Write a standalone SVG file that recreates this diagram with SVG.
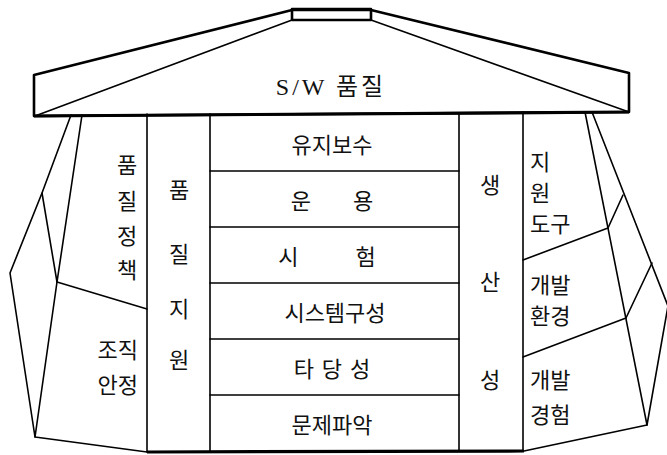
<svg xmlns="http://www.w3.org/2000/svg" width="667" height="455" viewBox="0 0 667 455">
<style>
.ln{fill:none;stroke:#000;stroke-width:1.6;stroke-linejoin:round;stroke-linecap:round}
.thk{fill:none;stroke:#000;stroke-width:2.6;stroke-linejoin:round;stroke-linecap:round}
.t{font-family:"Noto Sans CJK KR","Liberation Sans",sans-serif;font-size:22px;fill:#111;dominant-baseline:central}
.m{text-anchor:middle}
</style>
<rect width="667" height="455" fill="#fff"/>
<g id="roof">
<polygon class="thk" points="34,75 292,10 371,10 629,73 629,112 34,116"/>
<rect class="thk" x="292" y="9" width="79" height="11"/>
<line class="ln" x1="292" y1="20" x2="35" y2="116"/>
<line class="ln" x1="371" y1="20" x2="629" y2="112"/>
<line x1="34" y1="116" x2="629" y2="112" stroke="#000" stroke-width="3.2"/>
<text class="t m" x="331" y="87" style="font-family:'Liberation Serif','Noto Sans CJK KR',serif;font-size:24px" letter-spacing="3">S/W 품질</text>
</g>
<g id="left-panels">
<polyline class="ln" points="71,115 42,193 10,273 35,437 147,452"/>
<polyline class="ln" points="82,115 57,282 35,437"/>
<line class="ln" x1="42" y1="193" x2="57" y2="282"/>
<line class="ln" x1="57" y1="282" x2="147" y2="309"/>
<text class="t m" x="127" y="163">품</text>
<text class="t m" x="127" y="199">질</text>
<text class="t m" x="127" y="234">정</text>
<text class="t m" x="127" y="268">책</text>
<text class="t" x="138" y="348" text-anchor="end">조직</text>
<text class="t" x="138" y="383" text-anchor="end">안정</text>
</g>
<g id="quality-support">
<line class="ln" x1="147" y1="114" x2="147" y2="452"/>
<text class="t m" x="179" y="188">품</text>
<text class="t m" x="179" y="252">질</text>
<text class="t m" x="179" y="307">지</text>
<text class="t m" x="179" y="358">원</text>
</g>
<g id="stack">
<line class="ln" x1="210" y1="114" x2="210" y2="451"/>
<line class="ln" x1="459" y1="113" x2="459" y2="451"/>
<line class="ln" x1="210" y1="171" x2="459" y2="171"/>
<line class="ln" x1="210" y1="227" x2="459" y2="227"/>
<line class="ln" x1="210" y1="283" x2="459" y2="283"/>
<line class="ln" x1="210" y1="339" x2="459" y2="339"/>
<line class="ln" x1="210" y1="395" x2="459" y2="395"/>
<line x1="147" y1="452" x2="524" y2="451" stroke="#000" stroke-width="3.2"/>
<text class="t m" x="332" y="143">유지보수</text>
<text class="t m" x="332" y="199" word-spacing="37">운 용</text>
<text class="t m" x="327" y="255" word-spacing="52">시 험</text>
<text class="t m" x="335" y="311">시스템구성</text>
<text class="t m" x="332" y="367" word-spacing="3">타 당 성</text>
<text class="t m" x="332" y="423">문제파악</text>
</g>
<g id="productivity">
<line class="ln" x1="523" y1="112" x2="523" y2="451"/>
<text class="t m" x="490" y="183">생</text>
<text class="t m" x="490" y="280">산</text>
<text class="t m" x="490" y="378">성</text>
</g>
<g id="right-panels">
<polyline class="ln" points="592,112 668,306 647,425 524,451"/>
<line class="ln" x1="585" y1="112" x2="647" y2="425"/>
<line class="ln" x1="608" y1="228" x2="623" y2="195"/>
<line class="ln" x1="626" y1="318" x2="652" y2="263"/>
<line class="ln" x1="523" y1="260" x2="608" y2="228"/>
<line class="ln" x1="523" y1="357" x2="626" y2="318"/>
<text class="t" x="530" y="160">지</text>
<text class="t" x="530" y="191">원</text>
<text class="t" x="530" y="222">도구</text>
<text class="t" x="530" y="283">개발</text>
<text class="t" x="530" y="314">환경</text>
<text class="t" x="530" y="378">개발</text>
<text class="t" x="530" y="413">경험</text>
</g>
</svg>
